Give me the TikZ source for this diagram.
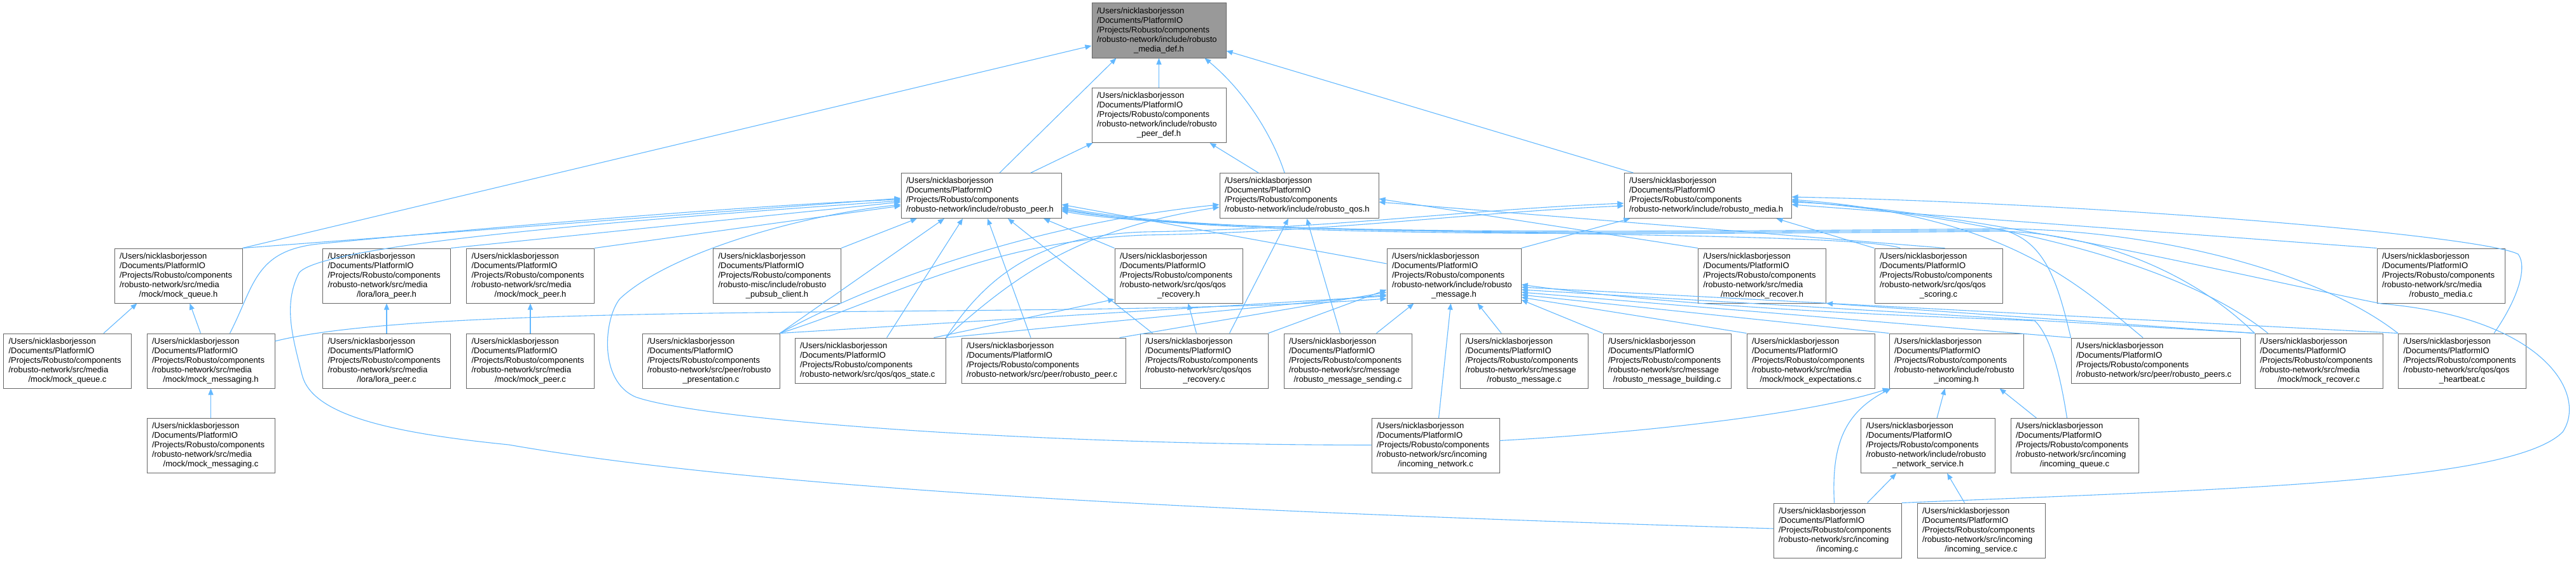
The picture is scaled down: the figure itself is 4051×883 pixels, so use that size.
\documentclass[tikz,border=0pt]{standalone}
\usepackage{fontspec}
\setmainfont{Liberation Sans}
\usetikzlibrary{arrows.meta}
\definecolor{edgeblue}{RGB}{99,184,255}
\definecolor{boxline}{RGB}{102,102,102}
\definecolor{rootfill}{RGB}{153,153,153}
\newcommand{\rbpath}{/Users/nicklasborjesson\\/Documents/PlatformIO\\/Projects/Robusto/components\\}
\newcommand{\lastln}[1]{\hspace*{0pt plus 1filll}#1\hspace*{0pt plus 1filll}\mbox{}}
\tikzset{
  fnode/.style={draw=boxline, fill=white, line width=1pt, inner xsep=8pt, inner ysep=0pt,
    text width=185pt, minimum height=86pt, align=left, font=\fontsize{13}{15}\selectfont},
  fnode4/.style={fnode, minimum height=71pt},
  rootnode/.style={fnode, fill=rootfill},
  incl/.style={draw=edgeblue, line width=1.1pt, -{Triangle[length=10pt,width=8pt]}},
}

\begin{document}
\begin{tikzpicture}[x=1pt,y=-1pt]
  \useasboundingbox (0,0) rectangle (4051,883);

  % headers on top
  \node[rootnode, text width=195pt] (mdef) at (1822.5,48) {\rbpath/robusto-network/include/robusto\\\lastln{\_media\_def.h}};
  \node[fnode, text width=195pt] (pdef) at (1822.5,181.5) {\rbpath/robusto-network/include/robusto\\\lastln{\_peer\_def.h}};

  \node[fnode4, text width=236pt] (rpeer) at (1543,308) {\rbpath/robusto-network/include/robusto\_peer.h};
  \node[fnode4, text width=234pt] (rqos) at (2043,308) {\rbpath/robusto-network/include/robusto\_qos.h};
  \node[fnode4, text width=247pt] (rmedia) at (2685.5,308) {\rbpath/robusto-network/include/robusto\_media.h};

  % second row
  \node[fnode] (mqueueh) at (280.5,434) {\rbpath/robusto-network/src/media\\\lastln{/mock/mock\_queue.h}};
  \node[fnode] (lorah) at (608,434) {\rbpath/robusto-network/src/media\\\lastln{/lora/lora\_peer.h}};
  \node[fnode] (mpeerh) at (834,434) {\rbpath/robusto-network/src/media\\\lastln{/mock/mock\_peer.h}};
  \node[fnode] (pubsub) at (1222,434) {\rbpath/robusto-misc/include/robusto\\\lastln{\_pubsub\_client.h}};
  \node[fnode] (qrecovh) at (1853.5,434) {\rbpath/robusto-network/src/qos/qos\\\lastln{\_recovery.h}};
  \node[fnode, text width=195pt] (msgh) at (2286.5,434) {\rbpath/robusto-network/include/robusto\\\lastln{\_message.h}};
  \node[fnode] (mrecovh) at (2771,434) {\rbpath/robusto-network/src/media\\\lastln{/mock/mock\_recover.h}};
  \node[fnode] (qscore) at (3048.5,434) {\rbpath/robusto-network/src/qos/qos\\\lastln{\_scoring.c}};
  \node[fnode] (rmediac) at (3838.5,434) {\rbpath/robusto-network/src/media\\\lastln{/robusto\_media.c}};

  % third row
  \node[fnode] (mqueuec) at (106,568) {\rbpath/robusto-network/src/media\\\lastln{/mock/mock\_queue.c}};
  \node[fnode] (mmsgh) at (331.5,568) {\rbpath/robusto-network/src/media\\\lastln{/mock/mock\_messaging.h}};
  \node[fnode] (lorac) at (608,568) {\rbpath/robusto-network/src/media\\\lastln{/lora/lora\_peer.c}};
  \node[fnode] (mpeerc) at (834,568) {\rbpath/robusto-network/src/media\\\lastln{/mock/mock\_peer.c}};
  \node[fnode, text width=200pt] (presc) at (1118,568) {\rbpath/robusto-network/src/peer/robusto\\\lastln{\_presentation.c}};
  \node[fnode4, text width=221pt] (qstate) at (1368.5,567.5) {\rbpath/robusto-network/src/qos/qos\_state.c};
  \node[fnode4, text width=242pt] (rpeerc) at (1641,567.5) {\rbpath/robusto-network/src/peer/robusto\_peer.c};
  \node[fnode] (qrecovc) at (1893.5,568) {\rbpath/robusto-network/src/qos/qos\\\lastln{\_recovery.c}};
  \node[fnode] (msend) at (2119.5,568) {\rbpath/robusto-network/src/message\\\lastln{/robusto\_message\_sending.c}};
  \node[fnode] (rmsgc) at (2397,568) {\rbpath/robusto-network/src/message\\\lastln{/robusto\_message.c}};
  \node[fnode] (mbuild) at (2621.5,568) {\rbpath/robusto-network/src/message\\\lastln{/robusto\_message\_building.c}};
  \node[fnode] (mexpect) at (2847.5,568) {\rbpath/robusto-network/src/media\\\lastln{/mock/mock\_expectations.c}};
  \node[fnode, text width=195pt] (incomh) at (3076.5,568) {\rbpath/robusto-network/include/robusto\\\lastln{\_incoming.h}};
  \node[fnode4, text width=250pt] (rpeers) at (3390,567.5) {\rbpath/robusto-network/src/peer/robusto\_peers.c};
  \node[fnode] (mrecovc) at (3646.5,568) {\rbpath/robusto-network/src/media\\\lastln{/mock/mock\_recover.c}};
  \node[fnode] (hbeat) at (3872,568) {\rbpath/robusto-network/src/qos/qos\\\lastln{\_heartbeat.c}};

  % lower rows
  \node[fnode] (mmsgc) at (331.5,701.5) {\rbpath/robusto-network/src/media\\\lastln{/mock/mock\_messaging.c}};
  \node[fnode] (incnet) at (2257.5,701.5) {\rbpath/robusto-network/src/incoming\\\lastln{/incoming\_network.c}};
  \node[fnode, text width=195pt] (netsvc) at (3032,701.5) {\rbpath/robusto-network/include/robusto\\\lastln{\_network\_service.h}};
  \node[fnode] (incq) at (3262.5,701.5) {\rbpath/robusto-network/src/incoming\\\lastln{/incoming\_queue.c}};
  \node[fnode] (incc) at (2889.5,835) {\rbpath/robusto-network/src/incoming\\\lastln{/incoming.c}};
  \node[fnode] (incsvc) at (3115.5,835) {\rbpath/robusto-network/src/incoming\\\lastln{/incoming\_service.c}};

  % into media_def and peer_def
  \draw[incl] (mqueueh.north east) -- ([yshift=-24pt]mdef.west);
  \draw[incl] ([xshift=29pt]rpeer.north) -- ([xshift=-67pt]mdef.south);
  \draw[incl] (pdef.north) -- (mdef.south);
  \draw[incl] ([xshift=-23pt]rqos.north) .. controls (2005,225) and (1965,150) .. ([xshift=72pt]mdef.south);
  \draw[incl] ([xshift=-117pt]rmedia.north) -- ([yshift=-32pt]mdef.east);
  \draw[incl] ([xshift=78pt]rpeer.north) -- ([xshift=-104pt]pdef.south);
  \draw[incl] ([xshift=-64pt]rqos.north) -- ([xshift=80pt]pdef.south);

  % into robusto_peer.h
  \draw[incl] (mqueueh.north east) -- ([yshift=-4pt]rpeer.west);
  \draw[incl] (lorah.north east) -- ([yshift=-10pt]rpeer.west);
  \draw[incl] (mpeerh.north east) -- ([yshift=-16pt]rpeer.west);
  \draw[incl] ([xshift=30pt]mmsgh.north) .. controls (400,450) and (400,395) .. (500,384)
    .. controls (800,355) and (1200,322) .. ([yshift=-6pt]rpeer.west);
  \draw[incl] ([yshift=3pt]incc.west) .. controls (1900,805) and (1200,770) .. (800,700)
    .. controls (600,680) and (490,650) .. (475,590)
    .. controls (460,530) and (445,480) .. (470,430)
    .. controls (500,385) and (1000,345) .. ([yshift=-8pt]rpeer.west);
  \draw[incl] ([yshift=1pt]incnet.west) .. controls (1600,700) and (1100,660) .. (1000,625)
    .. controls (940,600) and (950,500) .. (975,470)
    .. controls (1050,400) and (1250,340) .. ([yshift=-14pt]rpeer.west);
  \draw[incl] (pubsub.north east) -- ([xshift=-101pt]rpeer.south);
  \draw[incl] (presc.north east) -- ([xshift=-58pt]rpeer.south);
  \draw[incl] ([xshift=26pt]qstate.north) -- ([xshift=-29pt]rpeer.south);
  \draw[incl] ([xshift=-20pt]rpeerc.north) -- ([xshift=10pt]rpeer.south);
  \draw[incl] ([xshift=20pt]qrecovc.north west) -- ([xshift=42pt]rpeer.south);
  \draw[incl] (qrecovh.north west) -- ([xshift=98pt]rpeer.south);
  \draw[incl] ([yshift=19pt]msgh.west) -- ([yshift=-14pt]rpeer.east);
  \draw[incl] (rpeers.north west) .. controls (3235,440) and (3215,380) .. (3150,362)
    .. controls (2500,368) and (1900,372) .. ([yshift=-18pt]rpeer.east);
  \draw[incl] (mrecovc.north west) .. controls (3450,430) and (3300,368) .. (3150,364)
    .. controls (2500,370) and (1900,374) .. ([yshift=-20pt]rpeer.east);
  \draw[incl] (hbeat.north west) .. controls (3650,430) and (3400,362) .. (3150,360)
    .. controls (2500,366) and (1900,370) .. ([yshift=-22pt]rpeer.east);
  \draw[incl] ([xshift=-60pt]qscore.north) .. controls (2900,360) and (1900,375) .. ([yshift=-24pt]rpeer.east);

  % into robusto_qos.h
  \draw[incl] (presc.north east) .. controls (1400,430) and (1650,350) .. ([yshift=-14pt]rqos.west);
  \draw[incl] (qstate.north east) .. controls (1600,430) and (1700,360) .. ([yshift=-18pt]rqos.west);
  \draw[incl] ([xshift=40pt]qrecovc.north) -- ([xshift=-17pt]rqos.south);
  \draw[incl] ([xshift=-12pt]msend.north) -- ([xshift=12pt]rqos.south);
  \draw[incl] (mrecovh.north west) -- ([yshift=-5pt]rqos.east);
  \draw[incl] ([xshift=10pt]qscore.north) -- ([yshift=-10pt]rqos.east);

  % into robusto_media.h
  \draw[incl] (msgh.north east) -- ([xshift=-122pt]rmedia.south);
  \draw[incl] (qscore.north west) -- ([xshift=108pt]rmedia.south);
  \draw[incl] (rmediac.north west) -- ([yshift=-14pt]rmedia.east);
  \draw[incl] ([xshift=50pt]hbeat.north) .. controls (3960,470) and (3975,420) .. (3960,400)
    .. controls (3900,370) and (3300,320) .. ([yshift=-2pt]rmedia.east);
  \draw[incl] (incc.north east) .. controls (3500,770) and (3950,760) .. (4030,680)
    .. controls (4070,620) and (4000,500) .. (3745,478)
    .. controls (3550,440) and (3100,330) .. ([yshift=-10pt]rmedia.east);
  \draw[incl] ([xshift=-20pt]rpeers.north) .. controls (3260,440) and (3150,340) .. ([yshift=-6pt]rmedia.east);
  \draw[incl] ([xshift=-80pt]mrecovc.north) .. controls (3450,430) and (3200,350) .. ([yshift=-8pt]rmedia.east);
  \draw[incl] (qstate.north east) .. controls (1560,420) and (1650,370) .. (1800,365)
    .. controls (2100,360) and (2300,330) .. ([yshift=-12pt]rmedia.west);
  \draw[incl] (presc.north east) .. controls (1400,470) and (1550,380) .. (1800,370)
    .. controls (2100,365) and (2300,335) .. ([yshift=-16pt]rmedia.west);

  % into robusto_message.h
  \draw[incl] ([yshift=31pt]mmsgh.east) .. controls (700,470) and (1700,505) .. ([yshift=-36pt]msgh.west);
  \draw[incl] (presc.north east) -- ([yshift=-32pt]msgh.west);
  \draw[incl] (qstate.north east) -- ([yshift=-30pt]msgh.west);
  \draw[incl] ([xshift=-10pt]rpeerc.north east) -- ([yshift=-26pt]msgh.west);
  \draw[incl] (qrecovc.north east) -- ([yshift=-22pt]msgh.west);
  \draw[incl] ([xshift=45pt]msend.north) -- ([xshift=-63pt]msgh.south);
  \draw[incl] ([xshift=5pt]incnet.north) -- ([xshift=-5pt]msgh.south);
  \draw[incl] ([xshift=-36pt]rmsgc.north) -- ([xshift=37pt]msgh.south);
  \draw[incl] (mbuild.north west) -- ([yshift=-38pt]msgh.east);
  \draw[incl] (mexpect.north west) -- ([yshift=-34pt]msgh.east);
  \draw[incl] (incomh.north west) -- ([yshift=-30pt]msgh.east);
  \draw[incl] (rpeers.north west) -- ([yshift=-26pt]msgh.east);
  \draw[incl] (mrecovc.north west) -- ([yshift=-22pt]msgh.east);
  \draw[incl] (hbeat.north west) -- ([yshift=-18pt]msgh.east);
  \draw[incl] ([xshift=-12pt]incq.north) .. controls (3240,590) and (3225,530) .. (3200,505)
    .. controls (3100,500) and (2700,490) .. ([yshift=-14pt]msgh.east);

  % the small ones
  \draw[incl] ([xshift=57pt]mqueuec.north) -- ([xshift=-65pt]mqueueh.south);
  \draw[incl] ([xshift=-16pt]mmsgh.north) -- ([xshift=18pt]mqueueh.south);
  \draw[incl] (lorac.north) -- (lorah.south);
  \draw[incl] (mpeerc.north) -- (mpeerh.south);
  \draw[incl] (mmsgc.north) -- (mmsgh.south);
  \draw[incl] ([xshift=-12pt]qrecovc.north) -- ([xshift=15pt]qrecovh.south);
  \draw[incl] ([xshift=-19pt]qstate.north east) -- ([yshift=-37pt]qrecovh.west);
  \draw[incl] (mrecovc.north west) -- (mrecovh.south east);

  % incoming
  \draw[incl] ([xshift=-5pt]incc.north) .. controls (2880,700) and (2900,650) .. ([xshift=3pt]incomh.south west);
  \draw[incl] ([yshift=8pt]incnet.east) .. controls (2600,680) and (2850,650) .. (incomh.south west);
  \draw[incl] ([xshift=14pt]netsvc.north) -- ([xshift=-18pt]incomh.south);
  \draw[incl] ([xshift=-60pt]incq.north) -- ([xshift=68pt]incomh.south);
  \draw[incl] ([xshift=-26pt]incsvc.north) -- ([xshift=30pt]netsvc.south);
  \draw[incl] ([xshift=47pt]incc.north) -- ([xshift=-50pt]netsvc.south);
\end{tikzpicture}
\end{document}
